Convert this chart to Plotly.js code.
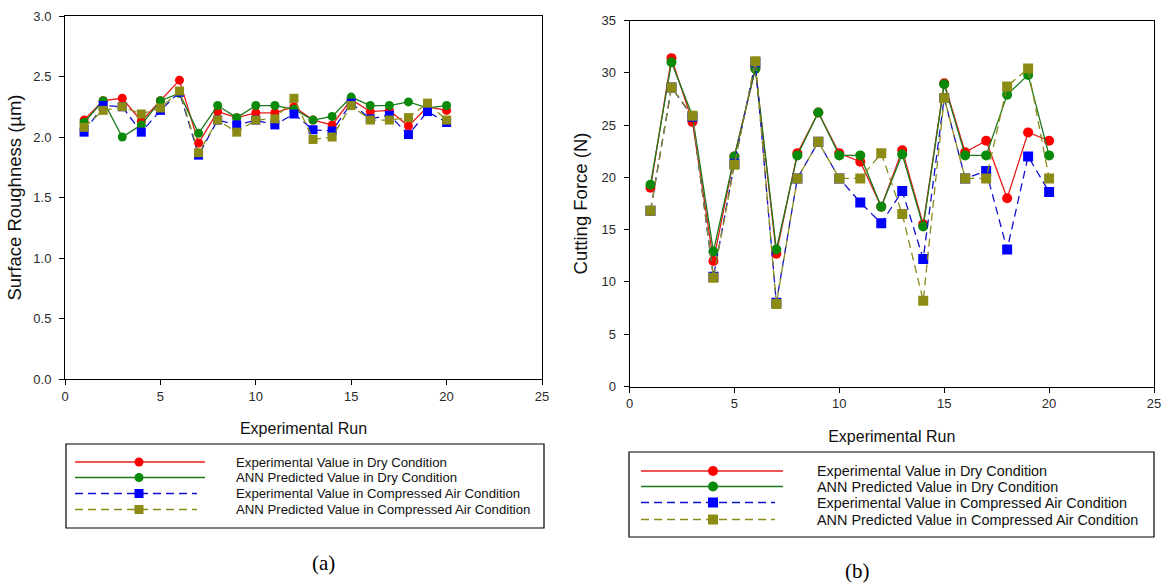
<!DOCTYPE html>
<html>
<head>
<meta charset="utf-8">
<script src="https://cdn.plot.ly/plotly-3.0.1.min.js"></script>
<style>
  html, body { margin: 0; padding: 0; background: #ffffff; }
  #chart { width: 1170px; height: 586px; }
</style>
</head>
<body>
<div id="chart"></div>
<script>
// Experimental runs 1..20
const runs = [1, 2, 3, 4, 5, 6, 7, 8, 9, 10, 11, 12, 13, 14, 15, 16, 17, 18, 19, 20];

// (a) Surface roughness (µm)
const raExpDry = [2.14, 2.30, 2.32, 2.13, 2.30, 2.47, 1.95, 2.21, 2.16, 2.20, 2.20, 2.25, 2.14, 2.10, 2.31, 2.21, 2.22, 2.09, 2.25, 2.22];
const raAnnDry = [2.12, 2.30, 2.00, 2.10, 2.30, 2.36, 2.03, 2.26, 2.16, 2.26, 2.26, 2.23, 2.14, 2.17, 2.33, 2.26, 2.26, 2.29, 2.24, 2.26];
const raExpAir = [2.04, 2.26, 2.25, 2.04, 2.22, 2.37, 1.85, 2.14, 2.10, 2.14, 2.10, 2.19, 2.06, 2.05, 2.28, 2.15, 2.18, 2.02, 2.21, 2.12];
const raAnnAir = [2.08, 2.22, 2.25, 2.19, 2.24, 2.38, 1.87, 2.14, 2.04, 2.14, 2.15, 2.32, 1.98, 2.00, 2.26, 2.14, 2.14, 2.16, 2.28, 2.14];

// (b) Cutting force (N)
const fcExpDry = [19.0, 31.4, 25.3, 12.0, 22.0, 30.4, 12.7, 22.3, 26.2, 22.3, 21.5, 17.2, 22.6, 15.5, 29.0, 22.4, 23.5, 18.0, 24.3, 23.5];
const fcAnnDry = [19.3, 31.0, 25.9, 12.9, 22.0, 30.4, 13.1, 22.1, 26.2, 22.1, 22.1, 17.2, 22.2, 15.3, 28.9, 22.1, 22.1, 27.9, 29.8, 22.1];
const fcExpAir = [16.8, 28.6, 25.8, 10.5, 21.3, 31.0, 8.0, 19.9, 23.4, 19.9, 17.6, 15.6, 18.7, 12.2, 27.6, 19.9, 20.6, 13.1, 22.0, 18.6];
const fcAnnAir = [16.8, 28.6, 25.9, 10.4, 21.2, 31.1, 7.9, 19.9, 23.4, 19.9, 19.9, 22.3, 16.5, 8.2, 27.6, 19.9, 19.9, 28.7, 30.4, 19.9];

const seriesNames = [
  'Experimental Value in Dry Condition',
  'ANN Predicted Value in Dry Condition',
  'Experimental Value in Compressed Air Condition',
  'ANN Predicted Value in Compressed Air Condition'
];

const xTitle = 'Experimental Run';
const yTitleA = 'Surface Roughness (\u00b5m)';
const yTitleB = 'Cutting Force (N)';

// Style of each series: line colour, marker colour, dash, marker symbol
const styles = [
  { line: '#e81c1c', fill: '#ff0000', dash: 'solid', symbol: 'circle' },
  { line: '#1a7a1a', fill: '#0a8a0a', dash: 'solid', symbol: 'circle' },
  { line: '#1010d0', fill: '#0000ff', dash: '8px,5px', symbol: 'square' },
  { line: '#8a8a1a', fill: '#8c8c14', dash: '8px,5px', symbol: 'square' }
];

const W = 1170, H = 586;
const px = v => v / W;          // pixel -> paper x
const py = v => 1 - v / H;      // pixel -> paper y

function makeTraces(seriesList, xa, ya, msize) {
  return seriesList.map((ys, i) => ({
    type: 'scatter', mode: 'lines+markers',
    x: runs, y: ys, xaxis: xa, yaxis: ya,
    name: seriesNames[i], showlegend: false,
    line: { color: styles[i].line, width: 1.3, dash: styles[i].dash },
    marker: { color: styles[i].fill, size: msize, symbol: styles[i].symbol,
              line: { width: 0 } },
    hoverinfo: 'x+y+name'
  }));
}

const traces = [
  ...makeTraces([raExpDry, raAnnDry, raExpAir, raAnnAir], 'x', 'y', 9),
  ...makeTraces([fcExpDry, fcAnnDry, fcExpAir, fcAnnAir], 'x2', 'y2', 10)
];

const SANS = 'Liberation Sans, Arial, sans-serif';
const tickFont = { family: SANS, size: 13, color: '#2a2a2a' };
const xTitleFont = { family: SANS, size: 16, color: '#111' };
const yTitleFont = { family: SANS, size: 18.5, color: '#111' };

function axisBase(domain, range, dtick) {
  return {
    domain: domain, range: range, dtick: dtick, tick0: 0,
    showgrid: false, zeroline: false,
    showline: true, linecolor: '#000', linewidth: 1, mirror: true,
    ticks: 'outside', ticklen: 5, tickwidth: 1, tickcolor: '#000',
    tickfont: tickFont, fixedrange: true
  };
}

// Hand-drawn legend boxes (long line samples with centred marker)
const shapes = [];
const annotations = [];

function addLegend(box, lineX0, lineX1, markX, textX, rowsY, fontSize, msize) {
  shapes.push({
    type: 'rect', xref: 'paper', yref: 'paper',
    x0: px(box[0]), x1: px(box[2]), y0: py(box[3]), y1: py(box[1]),
    line: { color: '#000', width: 1.2 }, fillcolor: 'rgba(0,0,0,0)'
  });
  rowsY.forEach((yy, i) => {
    const st = styles[i];
    shapes.push({
      type: 'line', xref: 'paper', yref: 'paper',
      x0: px(lineX0), x1: px(st.dash === 'solid' ? lineX1 : lineX1 - 8), y0: py(yy), y1: py(yy),
      line: { color: st.line, width: 1.3, dash: st.dash }
    });
    shapes.push({
      type: st.symbol === 'circle' ? 'circle' : 'rect',
      xref: 'paper', yref: 'paper', xsizemode: 'pixel', ysizemode: 'pixel',
      xanchor: px(markX), yanchor: py(yy),
      x0: -msize / 2, x1: msize / 2, y0: -msize / 2, y1: msize / 2,
      fillcolor: st.fill, line: { width: 0 }
    });
    annotations.push({
      xref: 'paper', yref: 'paper', x: px(textX), y: py(yy),
      xanchor: 'left', yanchor: 'middle', showarrow: false,
      text: seriesNames[i],
      font: { family: SANS, size: fontSize, color: '#111' }
    });
  });
}

addLegend([66, 444, 544, 528], 75, 205, 139, 234, [462, 477.5, 493.5, 509.5], 13.2, 9);
addLegend([629, 452, 1154, 537], 641, 783, 713, 815, [471, 486.5, 502.5, 519.5], 14.4, 10);

// Panel captions
annotations.push({
  xref: 'paper', yref: 'paper', x: px(323), y: py(563), xanchor: 'center', yanchor: 'middle',
  showarrow: false, text: '(a)',
  font: { family: 'Liberation Serif, Times New Roman, serif', size: 21, color: '#000' }
});
annotations.push({
  xref: 'paper', yref: 'paper', x: px(858), y: py(571), xanchor: 'center', yanchor: 'middle',
  showarrow: false, text: '(b)',
  font: { family: 'Liberation Serif, Times New Roman, serif', size: 21, color: '#000' }
});

const layout = {
  width: W, height: H,
  margin: { l: 0, r: 0, t: 0, b: 0, pad: 0 },
  paper_bgcolor: '#ffffff', plot_bgcolor: '#ffffff',
  showlegend: false,
  font: { family: SANS, color: '#111' },
  xaxis: Object.assign(axisBase([px(65), px(542)], [0, 25], 5), {
    anchor: 'y', title: { text: xTitle, font: xTitleFont, standoff: 20 }
  }),
  yaxis: Object.assign(axisBase([py(379), py(16)], [0, 3], 0.5), {
    anchor: 'x', tickformat: '.1f', ticklabelstandoff: 5,
    title: { text: yTitleA, font: yTitleFont, standoff: 6 }
  }),
  xaxis2: Object.assign(axisBase([px(629.5), px(1154)], [0, 25], 5), {
    anchor: 'y2', title: { text: xTitle, font: xTitleFont, standoff: 20 }
  }),
  yaxis2: Object.assign(axisBase([py(386.5), py(20.5)], [0, 35], 5), {
    anchor: 'x2', ticklabelstandoff: 5,
    title: { text: yTitleB, font: yTitleFont, standoff: 8 }
  }),
  shapes: shapes,
  annotations: annotations
};

Plotly.newPlot('chart', traces, layout, { displayModeBar: false, staticPlot: true });
</script>
</body>
</html>
